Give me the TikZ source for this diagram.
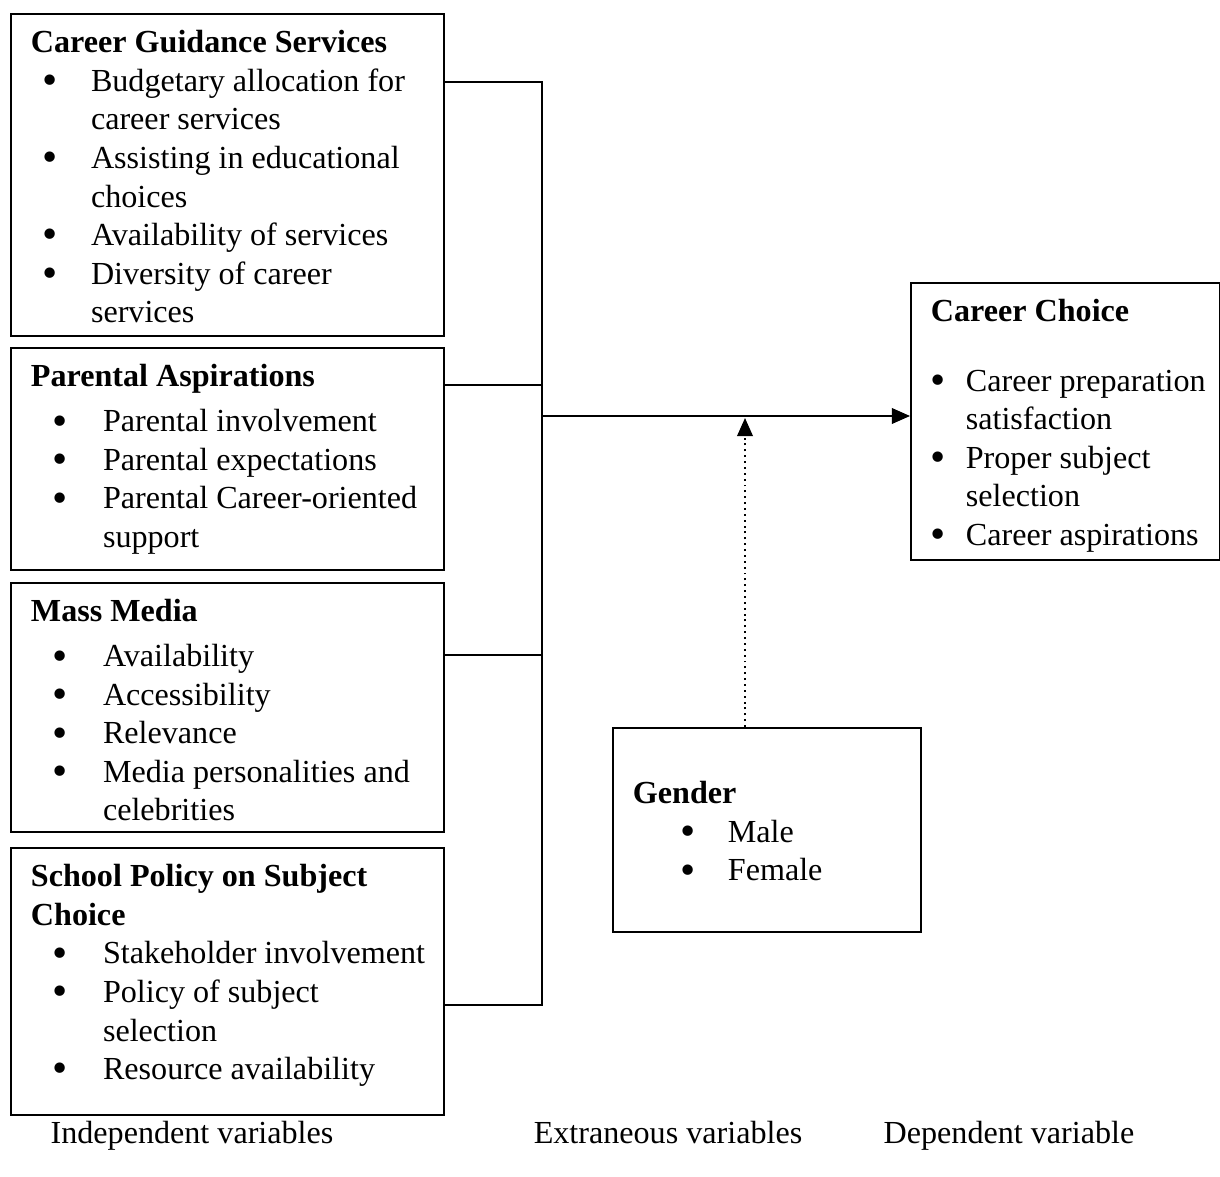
\documentclass[tikz,border=0pt]{standalone}
\usepackage{fontspec}
\setmainfont{Liberation Serif}
\usepackage{graphicx}
\usetikzlibrary{arrows.meta}

% text inside the boxes
\newcommand\vhead[1]{\strut\textbf{#1}}
\newcommand\vdot{\smash{\raisebox{-1.2pt}{\scalebox{1.35}{\textbullet}}}}
\newcommand\vitem[3]{\par\hangindent=#2\hangafter=1\noindent
  \makebox[#2][l]{\hspace*{\dimexpr#1-2.5pt\relax}\makebox[5pt]{\vdot}}#3}
\newcommand\vbody[3]{\parbox[t][#2][t]{#1}{\raggedright\hfuzz=40pt #3}}

\tikzset{varbox/.style={draw, line width=0.6pt, anchor=north west, inner xsep=7.2pt, inner ysep=4.3pt,
                        font=\fontsize{11.5pt}{13.8pt}\selectfont}}
\tikzset{varlabel/.style={anchor=base, font=\fontsize{11.5pt}{13.8pt}\selectfont}}
\tikzset{link/.style={line width=0.6pt}}
\tikzset{dotlink/.style={line width=0.7pt, dash pattern=on 0.7pt off 1.4pt}}

\begin{document}
\begin{tikzpicture}[x=0.358pt,y=-0.358pt,>={Triangle[length=6.5pt,width=5.6pt]}]
  \useasboundingbox (0,0) rectangle (1220,1177);

  % independent variables
  \node[varbox] (guidance) at (10,13) {\vbody{140.6pt}{106.7pt}{%
      \vhead{Career Guidance Services}
      \vitem{6.8pt}{21.5pt}{\mbox{Budgetary allocation for}\newline\mbox{career services}}
      \vitem{6.8pt}{21.5pt}{\mbox{Assisting in educational}\newline\mbox{choices}}
      \vitem{6.8pt}{21.5pt}{\mbox{Availability of services}}
      \vitem{6.8pt}{21.5pt}{\mbox{Diversity of career}\newline\mbox{services}}}};
  \node[varbox] (parents) at (10,347) {\vbody{140.6pt}{70.9pt}{%
      \vhead{Parental Aspirations}\par\vspace{2.3pt}
      \vitem{10.4pt}{25.8pt}{\mbox{Parental involvement}}
      \vitem{10.4pt}{25.8pt}{\mbox{Parental expectations}}
      \vitem{10.4pt}{25.8pt}{\mbox{Parental Career-oriented}\newline\mbox{support}}}};
  \node[varbox] (media) at (10,582) {\vbody{140.6pt}{80.5pt}{%
      \vhead{Mass Media}\par\vspace{2.3pt}
      \vitem{10.4pt}{25.8pt}{\mbox{Availability}}
      \vitem{10.4pt}{25.8pt}{\mbox{Accessibility}}
      \vitem{10.4pt}{25.8pt}{\mbox{Relevance}}
      \vitem{10.4pt}{25.8pt}{\mbox{Media personalities and}\newline\mbox{celebrities}}}};
  \node[varbox] (policy) at (10,847) {\vbody{140.6pt}{87.0pt}{%
      \vhead{School Policy on Subject\newline Choice}
      \vitem{10.4pt}{25.8pt}{\mbox{Stakeholder involvement}}
      \vitem{10.4pt}{25.8pt}{\mbox{Policy of subject}\newline\mbox{selection}}
      \vitem{10.4pt}{25.8pt}{\mbox{Resource availability}}}};

  % dependent variable
  \node[varbox] (choice) at (910,282) {\vbody{96.2pt}{90.6pt}{%
      \vhead{Career Choice}\par\vspace{11pt}
      \vitem{2.5pt}{12.5pt}{\mbox{Career preparation}\newline\mbox{satisfaction}}
      \vitem{2.5pt}{12.5pt}{\mbox{Proper subject}\newline\mbox{selection}}
      \vitem{2.5pt}{12.5pt}{\mbox{Career aspirations}}}};

  % extraneous variable
  \node[varbox] (gender) at (612,727) {\vbody{95.9pt}{64.4pt}{%
      \vspace*{13.2pt}\vhead{Gender}
      \vitem{19.7pt}{34pt}{Male}
      \vitem{19.7pt}{34pt}{Female}}};

  % joints on the spine
  \coordinate (j1) at (542,82);
  \coordinate (j2) at (542,385);
  \coordinate (j3) at (542,655);
  \coordinate (j4) at (542,1005);
  \coordinate (jm) at (542,416);
  \coordinate (gm) at (745,418);

  \draw[link] (guidance.east |- j1) -- (j1) -- (j4) -- (policy.east |- j4);
  \draw[link] (parents.east |- j2) -- (j2);
  \draw[link] (media.east |- j3) -- (j3);
  \draw[link,->] (jm) -- (choice.west |- jm);
  \draw[dotlink,->] (gender.north -| gm) -- (gm);

  \node[varlabel] (indep) at (192,1143) {Independent variables};
  \node[varlabel] (extra) at (668,1143) {Extraneous variables};
  \node[varlabel] (dep)   at (1009,1143) {Dependent variable};
\end{tikzpicture}
\end{document}
